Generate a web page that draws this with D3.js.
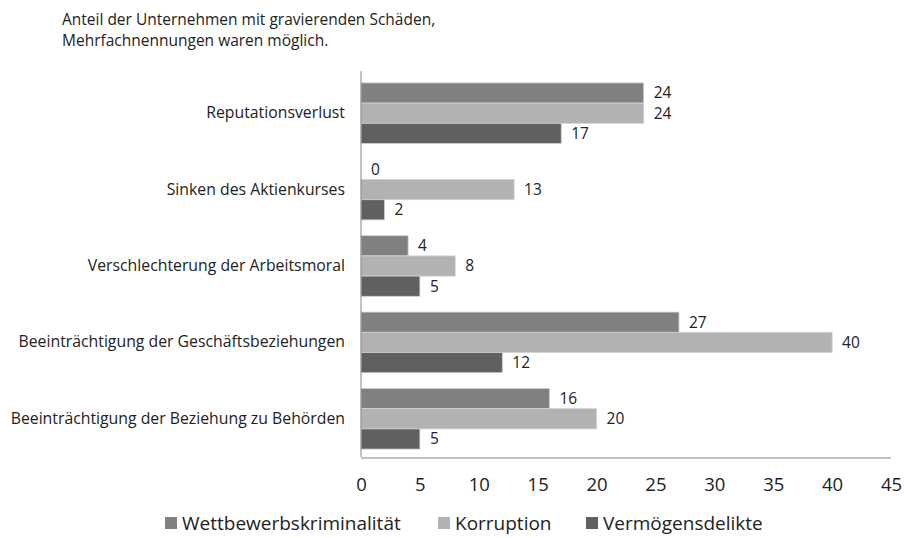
<!DOCTYPE html>
<html>
<head>
<meta charset="utf-8">
<script src="https://cdn.jsdelivr.net/npm/d3@7"></script>
<style>
  body { margin: 0; background: #fff; }
  text { font-family: "Open Sans", "Noto Sans", sans-serif; fill: #222; }
</style>
</head>
<body>
<div id="chart"></div>
<script>
// Daten
const categories = [
  "Reputationsverlust",
  "Sinken des Aktienkurses",
  "Verschlechterung der Arbeitsmoral",
  "Beeinträchtigung der Geschäftsbeziehungen",
  "Beeinträchtigung der Beziehung zu Behörden"
];
const seriesNames = ["Wettbewerbskriminalität", "Korruption", "Vermögensdelikte"];
const wettbewerb = [24, 0, 4, 27, 16];
const korruption = [24, 13, 8, 40, 20];
const vermoegen = [17, 2, 5, 12, 5];
const xTicks = [0, 5, 10, 15, 20, 25, 30, 35, 40, 45];
const titleLines = [
  "Anteil der Unternehmen mit gravierenden Schäden,",
  "Mehrfachnennungen waren möglich."
];

const colors = ["#808080", "#b2b2b2", "#606060"];
const values = [wettbewerb, korruption, vermoegen];

const W = 904, H = 538;
const plot = { left: 361, right: 891, top: 75, bottom: 457 };

const svg = d3.select("#chart").append("svg")
  .attr("width", W).attr("height", H);

// Titel
svg.append("g").selectAll("text").data(titleLines).join("text")
  .attr("x", 62).attr("y", (d, i) => 25 + i * 21)
  .style("font-size", "15.5px")
  .text(d => d);

// Skalen
const x = d3.scaleLinear().domain([0, 45]).range([plot.left, plot.right]);
const y = d3.scaleBand().domain(categories).range([plot.top, plot.bottom])
  .paddingInner(0.207).paddingOuter(0.1035);
const ySub = d3.scaleBand().domain(seriesNames).range([0, y.bandwidth()]);

// Achsen
svg.append("line")
  .attr("x1", plot.left).attr("x2", plot.right)
  .attr("y1", plot.bottom + 1).attr("y2", plot.bottom + 1)
  .attr("stroke", "#c0c0c0").attr("stroke-width", 2);

const xAxis = svg.append("g")
  .attr("transform", `translate(0,${plot.bottom + 1})`)
  .call(d3.axisBottom(x).tickValues(xTicks).tickSize(0).tickPadding(20));
xAxis.select(".domain").remove();
xAxis.selectAll("text").style("font-size", "18.5px").attr("fill", "#111");

// Balken
const groups = svg.append("g").selectAll("g").data(categories).join("g")
  .attr("transform", d => `translate(0,${y(d)})`);

groups.each(function (cat, ci) {
  const g = d3.select(this);
  seriesNames.forEach((s, si) => {
    const v = values[si][ci];
    g.append("rect")
      .attr("x", x(0))
      .attr("y", ySub(s))
      .attr("width", x(v) - x(0))
      .attr("height", ySub.bandwidth())
      .attr("fill", colors[si])
      .attr("stroke", "#d0d0d0")
      .attr("stroke-width", v > 0 ? 0.8 : 0);
    g.append("text")
      .attr("x", x(v) + 10)
      .attr("y", ySub(s) + ySub.bandwidth() / 2)
      .attr("dy", "0.35em")
      .style("font-size", "15.5px")
      .text(v);
  });
});

// Kategorie-Beschriftungen
const yAxis = svg.append("g")
  .attr("transform", `translate(${plot.left},0)`)
  .call(d3.axisLeft(y).tickSize(0).tickPadding(16));
yAxis.select(".domain").remove();
yAxis.selectAll("text").style("font-size", "15.8px").attr("fill", "#222");

svg.append("line")
  .attr("x1", plot.left).attr("x2", plot.left)
  .attr("y1", plot.top - 4).attr("y2", plot.bottom)
  .attr("stroke", "#868686").attr("stroke-width", 1);

// Legende
const legendX = [165, 438, 586];
const legend = svg.append("g").selectAll("g").data(seriesNames).join("g")
  .attr("transform", (d, i) => `translate(${legendX[i]},523)`);
legend.append("rect")
  .attr("x", 0).attr("y", -6).attr("width", 12).attr("height", 12)
  .attr("fill", (d, i) => colors[i]);
legend.append("text")
  .attr("x", 17).attr("dy", "0.35em")
  .style("font-size", "19px")
  .text(d => d);
</script>
</body>
</html>
